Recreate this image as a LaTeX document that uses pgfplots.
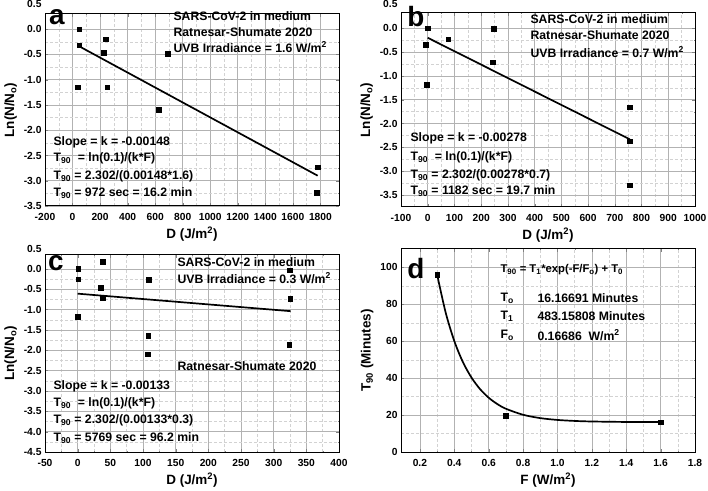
\documentclass[border=0pt]{standalone}
\usepackage{pgfplots}
\pgfplotsset{compat=1.18}
\usepackage{fontspec}
\setmainfont{Liberation Sans}

\newcommand{\ann}{\bfseries\fontsize{12.3}{14}\selectfont}
\newcommand{\letter}{\bfseries\fontsize{28}{29}\selectfont}
\newcommand{\tickf}{\bfseries\fontsize{10.3}{11}\selectfont}

\pgfplotsset{
  panel/.style={
    scale only axis, anchor=south west, clip=false,
    font=\bfseries,
    tick align=inside,
    axis line style={line width=1pt},
    grid=both,
    major grid style={gray!60, line width=0.6pt},
    minor grid style={gray!35, densely dashed, line width=0.4pt},
    major tick length=3pt, minor tick length=1.5pt,
    xticklabel={\tickf\pgfmathprintnumber{\tick}},
    yticklabel={\tickf\pgfmathprintnumber{\tick}},
    xticklabel style={yshift=-3.5bp},
    label style={font=\bfseries\fontsize{13.5}{15}\selectfont},
    /pgf/number format/assume math mode=true,
    /pgf/number format/1000 sep={},
  },
  onedec/.style={/pgf/number format/.cd, fixed, fixed zerofill, precision=1},
  sq/.style={black, only marks, mark=square*, mark size=2.3pt},
  fit/.style={black, no marks, line width=1.7pt},
}

\begin{document}
\begin{tikzpicture}
\useasboundingbox (0,0) rectangle (708bp,491bp);

% ---- a ----
\begin{axis}[panel, at={(45bp,285bp)}, width=294bp, height=192bp,
    xmin=-200, xmax=1935, ymin=-3.5, ymax=0.3,
    xtick={-200,0,...,1800}, minor x tick num=1,
    ytick={-3.5,-3.0,...,0.0}, minor y tick num=1,
    yticklabel style={onedec},
    xlabel={D (J/m\textsuperscript{2})},
    ylabel={Ln(N/N\textsubscript{o})}]
\addplot[sq] coordinates {
  (49,0.0) (49,-0.32) (240,-0.20) (227,-0.47) (39,-1.15)
  (252,-1.15) (690,-0.485) (626,-1.59) (1780,-2.73) (1775,-3.24)};
\addplot[fit] coordinates {(49,-0.34) (1780,-2.90)};
\node[anchor=east] at (axis cs:-200,0.5) {\tickf 0.5};
\end{axis}
\node[anchor=west] at (170bp,475bp) {\ann SARS-CoV-2 in medium};
\node[anchor=west] at (170bp,459bp) {\ann Ratnesar-Shumate 2020};
\node[anchor=west] at (170bp,444bp) {\ann UVB Irradiance = 1.6 W/m\textsuperscript{2}};
\node[anchor=west] at (50bp,349bp) {\ann Slope = k = -0.00148};
\node[anchor=west] at (50bp,333bp) {\ann T\textsubscript{90}\ \ = ln(0.1)/(k*F)};
\node[anchor=west] at (50bp,315bp) {\ann T\textsubscript{90} = 2.302/(0.00148*1.6)};
\node[anchor=west] at (50bp,298bp) {\ann T\textsubscript{90} = 972 sec = 16.2 min};
\node at (57bp,474bp) {\letter a};

% ---- b ----
\begin{axis}[panel, at={(401bp,284bp)}, width=294bp, height=194bp,
    xmin=-100, xmax=1000, ymin=-3.75, ymax=0.32,
    xtick={-100,0,...,1000}, minor x tick num=1,
    ytick={-3.5,-3.0,...,0.0}, minor y tick num=1,
    yticklabel style={onedec},
    xlabel={D (J/m\textsuperscript{2})},
    ylabel={Ln(N/N\textsubscript{o})}]
\addplot[sq] coordinates {
  (0,0.0) (-8,-0.34) (-4,-1.19) (76,-0.23) (247,-0.01)
  (243,-0.71) (756,-1.66) (756,-2.37) (756,-3.29)};
\addplot[fit] coordinates {(0,-0.20) (756,-2.33)};
\node[anchor=east] at (axis cs:-100,0.5) {\tickf 0.5};
\end{axis}
\node[anchor=west] at (527bp,472bp) {\ann SARS-CoV-2 in medium};
\node[anchor=west] at (527bp,456bp) {\ann Ratnesar-Shumate 2020};
\node[anchor=west] at (527bp,439bp) {\ann UVB Irradiance = 0.7 W/m\textsuperscript{2}};
\node[anchor=west] at (407bp,353bp) {\ann Slope = k = -0.00278};
\node[anchor=west] at (407bp,334bp) {\ann T\textsubscript{90}\ \ = ln(0.1)/(k*F)};
\node[anchor=west] at (407bp,316bp) {\ann T\textsubscript{90} = 2.302/(0.00278*0.7)};
\node[anchor=west] at (407bp,300bp) {\ann T\textsubscript{90} = 1182 sec = 19.7 min};
\node at (416bp,474bp) {\letter b};

% ---- c ----
\begin{axis}[panel, at={(45bp,39bp)}, width=294bp, height=197bp,
    xmin=-50, xmax=400, ymin=-4.5, ymax=0.34,
    xtick={-50,0,...,400}, minor x tick num=1,
    ytick={-4.5,-4.0,...,0.0}, minor y tick num=1,
    yticklabel style={onedec},
    xlabel={D (J/m\textsuperscript{2})},
    ylabel={Ln(N/N\textsubscript{o})}]
\addplot[sq] coordinates {
  (1,0.0) (1,-0.25) (0,-1.17) (38,0.17) (35,-0.46) (38,-0.72)
  (109,-0.27) (108,-1.64) (107,-2.10) (324.5,-0.03) (325.5,-0.73) (324,-1.87)};
\addplot[fit] coordinates {(0,-0.61) (326,-1.04)};
\node[anchor=east] at (axis cs:-50,0.5) {\tickf 0.5};
\end{axis}
\node[anchor=west] at (174bp,229bp) {\ann SARS-CoV-2 in medium};
\node[anchor=west] at (174bp,213bp) {\ann UVB Irradiance = 0.3 W/m\textsuperscript{2}};
\node[anchor=west] at (174bp,125bp) {\ann Ratnesar-Shumate 2020};
\node[anchor=west] at (50bp,105bp) {\ann Slope = k = -0.00133};
\node[anchor=west] at (50bp,88bp) {\ann T\textsubscript{90}\ \ = ln(0.1)/(k*F)};
\node[anchor=west] at (50bp,71bp) {\ann T\textsubscript{90} = 2.302/(0.00133*0.3)};
\node[anchor=west] at (50bp,53bp) {\ann T\textsubscript{90} = 5769 sec = 96.2 min};
\node at (56bp,228bp) {\letter c};

% ---- d ----
\begin{axis}[panel, at={(401bp,39bp)}, width=294bp, height=203bp,
    xmin=0.09, xmax=1.8, ymin=0, ymax=110,
    xtick={0.2,0.4,...,1.8}, minor x tick num=1,
    ytick={0,20,...,100}, minor y tick num=1,
    xticklabel style={onedec},
    xlabel={F (W/m\textsuperscript{2})},
    ylabel={T\textsubscript{90} (Minutes)}]
\addplot[fit, smooth] coordinates {
  (0.30,96.19) (0.35,75.47) (0.40,60.13) (0.45,48.73) (0.50,40.31)
  (0.55,34.06) (0.60,29.42) (0.65,25.99) (0.70,23.44) (0.80,20.17)
  (0.90,18.36) (1.00,17.37) (1.10,16.83) (1.20,16.53) (1.40,16.28) (1.60,16.20)};
\addplot[sq] coordinates {(0.3,96.2) (0.7,19.7) (1.6,16.2)};
\end{axis}
\node[anchor=west] at (497bp,221bp) {\bfseries\fontsize{11.3}{13}\selectfont T\textsubscript{90} = T\textsubscript{1}*exp(-F/F\textsubscript{o}) + T\textsubscript{0}};
\node[anchor=west] at (497bp,193bp) {\ann T\textsubscript{o}};
\node[anchor=west] at (534bp,193bp) {\ann 16.16691 Minutes};
\node[anchor=west] at (497bp,175bp) {\ann T\textsubscript{1}};
\node[anchor=west] at (534bp,175bp) {\ann 483.15808 Minutes};
\node[anchor=west] at (497bp,156bp) {\ann F\textsubscript{o}};
\node[anchor=west] at (534bp,156bp) {\ann 0.16686\ \ W/m\textsuperscript{2}};
\node at (416bp,222bp) {\letter d};
\end{tikzpicture}
\end{document}
